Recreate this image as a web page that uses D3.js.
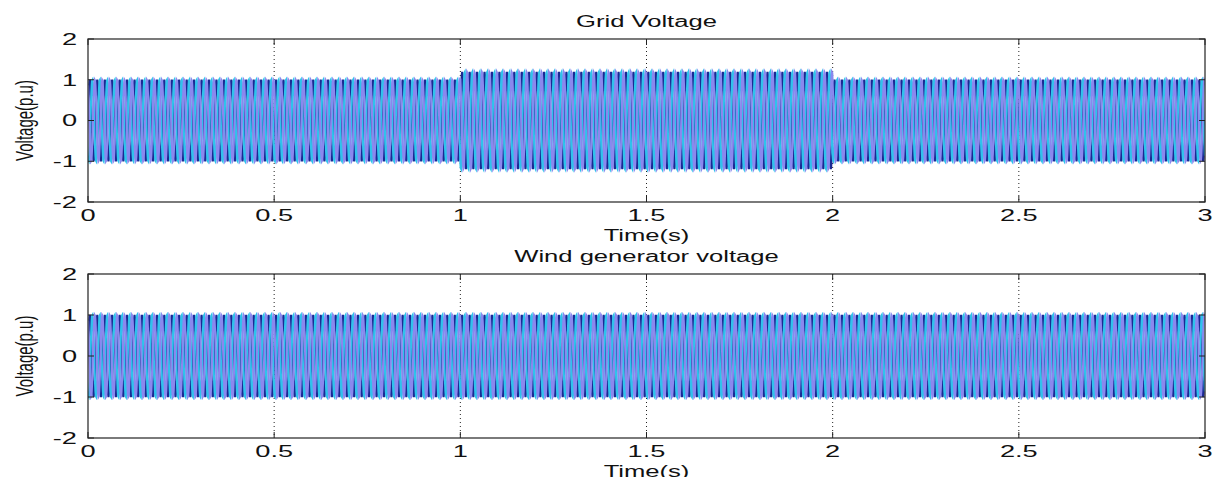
<!DOCTYPE html>
<html>
<head>
<meta charset="utf-8">
<script src="https://cdn.jsdelivr.net/npm/d3@7"></script>
<style>
  html, body { margin: 0; padding: 0; background: #fff; }
  svg { display: block; }
  text { font-family: "Liberation Sans", Arial, sans-serif; fill: #111; }
</style>
</head>
<body>
<svg id="chart" width="1216" height="477"></svg>
<script>
// ---- data ----
const xTicks = [0, 0.5, 1, 1.5, 2, 2.5, 3];
const yTicks = [-2, -1, 0, 1, 2];
const tickLabelsX = ["0", "0.5", "1", "1.5", "2", "2.5", "3"];
const tickLabelsY = ["-2", "-1", "0", "1", "2"];
const freqHz = 50;                       // supply frequency
const phaseShiftDeg = [0, -120, 120];    // three-phase displacement
const phaseColors = ["#1b2a94", "#2fc2ec", "#8a88ee"];
// grid voltage: swell between 1 s and 2 s
const gridBreaks = [0, 1, 2, 3];
const gridAmps = [1.0, 1.19, 1.0];
// wind generator terminal voltage stays at nominal
const windBreaks = [0, 3];
const windAmps = [1.0];
const sampleStep = 0.001;                // simulation output step (s)

const panels = [
  { title: "Grid Voltage", breaks: gridBreaks, amps: gridAmps, top: 39, bottom: 202 },
  { title: "Wind generator voltage", breaks: windBreaks, amps: windAmps, top: 274, bottom: 438 }
];

const svg = d3.select("#chart");
const left = 88, right = 1205;
const SX = 1.6;   // horizontal text stretch of the figure export

function ampAt(t, breaks, amps) {
  for (let i = 0; i < amps.length; i++) {
    if (t >= breaks[i] && t < breaks[i + 1]) return amps[i];
  }
  return amps[amps.length - 1];
}

const x = d3.scaleLinear().domain([0, 3]).range([left, right]);

function label(g, txt, px, py, size, anchor, rot) {
  g.append("text")
    .attr("transform", `translate(${px},${py}) scale(${SX},1)` + (rot ? ` rotate(${rot})` : ""))
    .attr("text-anchor", anchor)
    .attr("dominant-baseline", "central")
    .style("font-size", size + "px")
    .text(txt);
}

panels.forEach((p, pi) => {
  const g = svg.append("g");
  const y = d3.scaleLinear().domain([-2, 2]).range([p.bottom, p.top]);
  const clipId = "clip" + pi;
  svg.append("clipPath").attr("id", clipId)
    .append("rect").attr("x", left).attr("y", p.top)
    .attr("width", right - left).attr("height", p.bottom - p.top);

  // x grid (dotted)
  g.append("g").selectAll("line").data(xTicks.slice(1, -1)).join("line")
    .attr("x1", d => x(d)).attr("x2", d => x(d))
    .attr("y1", p.top).attr("y2", p.bottom)
    .attr("stroke", "#222").attr("stroke-width", 1)
    .attr("stroke-dasharray", "1,3");

  // three-phase waveforms
  const times = d3.range(0, 3 + sampleStep / 2, sampleStep);
  const wave = g.append("g").attr("clip-path", `url(#${clipId})`);
  phaseShiftDeg.forEach((ph, k) => {
    const pts = times.map(t => [t, ampAt(t, p.breaks, p.amps) *
      Math.sin(2 * Math.PI * freqHz * t + ph * Math.PI / 180)]);
    wave.append("path")
      .datum(pts)
      .attr("fill", "none")
      .attr("stroke", phaseColors[k])
      .attr("stroke-width", 2.1)
      .attr("d", d3.line().x(d => x(d[0])).y(d => y(d[1])));
  });

  // axes box
  g.append("rect").attr("x", left).attr("y", p.top)
    .attr("width", right - left).attr("height", p.bottom - p.top)
    .attr("fill", "none").attr("stroke", "#333").attr("stroke-width", 1.3);

  // inward ticks
  const tl = 6;
  xTicks.forEach(v => {
    g.append("line").attr("x1", x(v)).attr("x2", x(v)).attr("y1", p.bottom).attr("y2", p.bottom - tl).attr("stroke", "#222");
    g.append("line").attr("x1", x(v)).attr("x2", x(v)).attr("y1", p.top).attr("y2", p.top + tl).attr("stroke", "#222");
  });
  yTicks.forEach(v => {
    g.append("line").attr("x1", left).attr("x2", left + tl).attr("y1", y(v)).attr("y2", y(v)).attr("stroke", "#222");
    g.append("line").attr("x1", right).attr("x2", right - tl).attr("y1", y(v)).attr("y2", y(v)).attr("stroke", "#222");
  });

  // tick labels
  xTicks.forEach((v, i) => label(g, tickLabelsX[i], x(v), p.bottom + 13, 17, "middle"));
  yTicks.forEach((v, i) => label(g, tickLabelsY[i], left - 11, y(v), 17, "end"));

  // titles
  label(g, p.title, (left + right) / 2, p.top - 17, 16, "middle");
  label(g, "Time(s)", (left + right) / 2, p.bottom + 34, 16, "middle");
  label(g, "Voltage(p.u)", 25, (p.top + p.bottom) / 2, 15, "middle", -90);
});
</script>
</body>
</html>
